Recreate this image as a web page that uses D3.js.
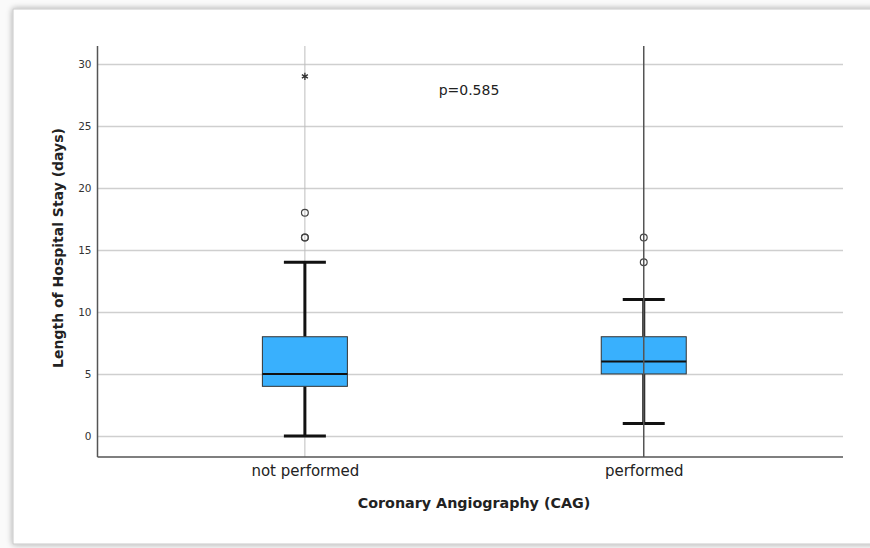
<!DOCTYPE html>
<html><head><meta charset="utf-8">
<script src="https://cdn.jsdelivr.net/npm/d3@7/dist/d3.min.js"></script>
<style>
html,body{margin:0;padding:0;background:#f4f4f4;}
svg{display:block;}
text{font-family:"DejaVu Sans",Verdana,sans-serif;}
</style></head>
<body>
<svg id="chart" width="870" height="548"></svg>
<script>
const categories = ["not performed", "performed"];
const q1 = [4, 5];
const medians = [5, 6];
const q3 = [8, 8];
const whiskerLow = [0, 1];
const whiskerHigh = [14, 11];
const outliers = [[16, 16, 18], [14, 16]];
const extremes = [[29], []];
const yTicks = [0, 5, 10, 15, 20, 25, 30];
const pText = "p=0.585";

(function(){
const svg = d3.select("#chart");
const defs = svg.append("defs");
const f = defs.append("filter").attr("id","sh").attr("x","-5%").attr("y","-5%").attr("width","110%").attr("height","110%");
f.append("feGaussianBlur").attr("in","SourceAlpha").attr("stdDeviation",3).attr("result","b");
f.append("feComponentTransfer").attr("in","b").attr("result","o2").append("feFuncA").attr("type","linear").attr("slope",0.35);
const m = f.append("feMerge"); m.append("feMergeNode").attr("in","o2"); m.append("feMergeNode").attr("in","SourceGraphic");

svg.append("rect").attr("x",0).attr("y",0).attr("width",870).attr("height",548).attr("fill","#fafafa");
svg.append("rect").attr("x",13).attr("y",9).attr("width",880).attr("height",535)
  .attr("fill","#fff").attr("stroke","#c8c8c8").attr("stroke-width",1).attr("filter","url(#sh)");

const pL = 97.5, pR = 843, pT = 46, pB = 457;
const y = d3.scaleLinear().domain([-1.7, 31.45]).range([pB, pT]);
const x = d3.scalePoint().domain(categories).range([pL, pR]).padding(0.6).align(0.51);

// gridlines
const gy = d3.axisLeft(y).tickValues(yTicks).tickSize(-(pR-pL)).tickFormat("");
const gridG = svg.append("g").attr("transform",`translate(${pL},0)`).call(gy);
gridG.select(".domain").remove();
gridG.selectAll(".tick line").attr("stroke","#cfcfcf").attr("stroke-width",1.5);

// light vertical line group 1 (behind)
svg.append("line").attr("x1",x(categories[0])).attr("x2",x(categories[0]))
  .attr("y1",pT).attr("y2",pB).attr("stroke","#bdbdbd").attr("stroke-width",1);

// y axis labels
const ya = d3.axisLeft(y).tickValues(yTicks).tickSize(0).tickPadding(6);
const yG = svg.append("g").attr("transform",`translate(${pL},0)`).call(ya);
yG.select(".domain").remove();
yG.selectAll(".tick text").attr("font-size",10.5).attr("fill","#333").attr("font-family","DejaVu Sans, sans-serif");

// boxes
const boxW = 85, capW = 42;
categories.forEach((c,i)=>{
  const cx = x(c);
  const g = svg.append("g");
  g.append("line").attr("x1",cx).attr("x2",cx).attr("y1",y(whiskerLow[i])).attr("y2",y(q1[i])).attr("stroke","#111").attr("stroke-width",3);
  g.append("line").attr("x1",cx).attr("x2",cx).attr("y1",y(q3[i])).attr("y2",y(whiskerHigh[i])).attr("stroke","#111").attr("stroke-width",3);
  [whiskerLow[i], whiskerHigh[i]].forEach(v=>{
    g.append("line").attr("x1",cx-capW/2).attr("x2",cx+capW/2).attr("y1",y(v)).attr("y2",y(v)).attr("stroke","#111").attr("stroke-width",3);
  });
  g.append("rect").attr("x",cx-boxW/2).attr("y",y(q3[i])).attr("width",boxW).attr("height",y(q1[i])-y(q3[i]))
    .attr("fill","#39b0fd").attr("stroke","#333").attr("stroke-width",1);
  g.append("line").attr("x1",cx-boxW/2).attr("x2",cx+boxW/2).attr("y1",y(medians[i])).attr("y2",y(medians[i])).attr("stroke","#111").attr("stroke-width",2);
  outliers[i].forEach(v=>{
    g.append("circle").attr("cx",cx).attr("cy",y(v)).attr("r",3.4).attr("fill","none").attr("stroke","#444").attr("stroke-width",1.2);
  });
  extremes[i].forEach(v=>{
    g.append("path").attr("d",d3.symbol().type(d3.symbolAsterisk).size(34)).attr("transform",`translate(${cx},${y(v)})`)
      .attr("fill","none").attr("stroke","#333").attr("stroke-width",1.3);
  });
});

// dark vertical line group 2 (front)
svg.append("line").attr("x1",x(categories[1])).attr("x2",x(categories[1]))
  .attr("y1",pT).attr("y2",pB).attr("stroke","#555").attr("stroke-width",1.5);

// axes lines
svg.append("line").attr("x1",pL).attr("x2",pL).attr("y1",pT).attr("y2",pB).attr("stroke","#555").attr("stroke-width",1.5);
svg.append("line").attr("x1",pL).attr("x2",pR).attr("y1",pB).attr("y2",pB).attr("stroke","#555").attr("stroke-width",1.5);

// x labels
const xa = d3.axisBottom(x).tickSize(0).tickPadding(8);
const xG = svg.append("g").attr("transform",`translate(0,${pB})`).call(xa);
xG.select(".domain").remove();
xG.selectAll(".tick text").attr("font-size",15).attr("fill","#222").attr("font-family","DejaVu Sans, sans-serif");

svg.append("text").attr("x",474).attr("y",508).attr("text-anchor","middle").attr("font-size",14.3).attr("font-weight","bold").attr("fill","#222")
  .text("Coronary Angiography (CAG)");
svg.append("text").attr("transform","translate(63,248) rotate(-90)").attr("text-anchor","middle").attr("font-size",14).attr("font-weight","bold").attr("fill","#222")
  .text("Length of Hospital Stay (days)");
svg.append("text").attr("x",469).attr("y",95).attr("text-anchor","middle").attr("font-size",14).attr("fill","#222").text(pText);
})();
</script>
</body></html>
